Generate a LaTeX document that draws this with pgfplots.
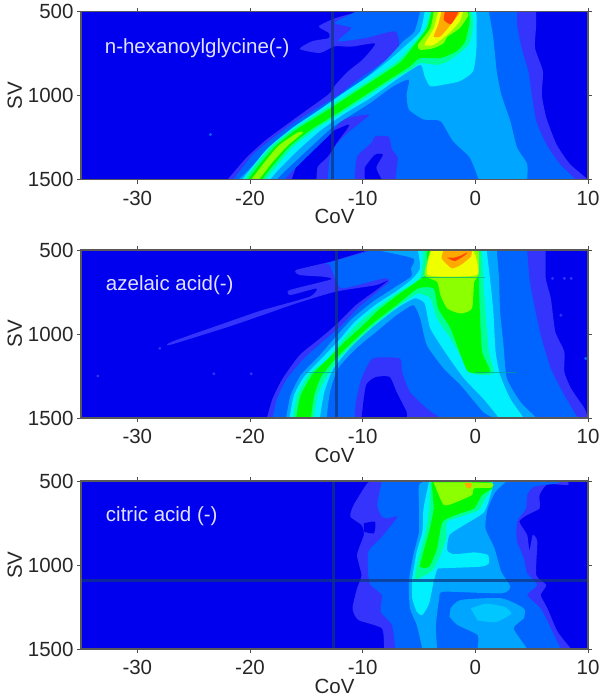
\documentclass[border=0pt]{standalone}
\usepackage{pgfplots}
\pgfplotsset{compat=1.18}
\usepackage{fontspec}
\setmainfont{Liberation Sans}
\definecolor{LA}{RGB}{0,0,238}
\definecolor{LB}{RGB}{52,52,252}
\definecolor{LC}{RGB}{0,100,255}
\definecolor{LD}{RGB}{0,165,255}
\definecolor{LE}{RGB}{0,240,255}
\definecolor{LF}{RGB}{0,255,150}
\definecolor{LG}{RGB}{0,250,0}
\definecolor{LH}{RGB}{140,255,0}
\definecolor{LI}{RGB}{240,255,0}
\definecolor{LJ}{RGB}{255,170,0}
\definecolor{LK}{RGB}{255,70,0}
\definecolor{LineC}{RGB}{15,55,125}
\tikzset{pname/.style={anchor=west, inner sep=0pt, text=white!88!blue, font=\fontsize{20.5}{21}\selectfont}}
\pgfplotsset{
  heat/.style={
    scale only axis, width=507pt, height=168pt, anchor=north west,
    xmin=-35, xmax=10, ymin=500, ymax=1500, y dir=reverse,
    axis background/.style={fill=LA},
    xtick={-30,-20,-10,0,10}, xticklabels={-30,-20,-10,0,10},
    ytick={500,1000,1500}, yticklabels={500,1000,1500},
    tick align=outside, major tick length=4pt,
    every tick/.style={color=black!70, line width=0.7pt},
    axis line style={color=black!65, line width=1.1pt},
    tick label style={font=\fontsize{20.5}{21}\selectfont, text=black!85},
    label style={font=\fontsize{20.5}{21}\selectfont, text=black!85},
    xticklabel style={yshift=-4pt},
    xlabel style={yshift=3pt},
    ylabel style={yshift=-1pt},
    xlabel={CoV}, ylabel={SV},
    axis on top,
  },
  lev/.style={fill=#1, draw=none, forget plot, smooth, tension=0.35},
  dark/.style={draw=LineC, line width=3pt, opacity=0.72, forget plot},
}
\begin{document}
\begin{tikzpicture}[x=1pt,y=1pt]
\path[use as bounding box] (0,0) rectangle (602,700);
% ---------- n-hexanoylglycine
\begin{axis}[heat, at={(81pt,688.3pt)}]
\addplot[lev=LB] coordinates {(-10.3,500)(-12.4,538)(-13.9,587)(-13,627)(-13,657)(-14.5,676)(-15.6,722)(-13.8,746)(-12.5,706)(-11,708)(-8.9,690)(-10,785)(-11.3,855)(-12.4,934)(-13,990)(-15.9,1131)(-18.5,1259)(-20.3,1368)(-22,1500)(-22.8,1570)(10.8,1570)(10,1500)(8.4,1407)(7.2,1289)(6.3,1131)(5.9,993)(6,855)(5.3,717)(5.4,580)(5.4,500)} -- cycle;
\addplot[lev=LA] coordinates {(-16.3,1500)(-15.6,1380)(-14.1,1280)(-12.9,1220)(-11.3,1172)(-11.3,1190)(-12.3,1280)(-13.1,1363)(-14,1422)(-14.1,1500)} -- cycle;
\addplot[lev=LC] coordinates {(-10.6,500)(-12.5,567)(-11,597)(-12.2,676)(-9.7,656)(-7.1,617)(-6.8,726)(-8.5,815)(-10.6,914)(-11.9,984)(-13.5,1052)(-15.9,1151)(-17.9,1249)(-19.7,1348)(-21.5,1500)(-22.3,1570)(-16.2,1570)(-16.9,1500)(-15.3,1387)(-12.9,1230)(-11.7,1141)(-9.4,1113)(-11.2,1214)(-12.2,1280)(-12.9,1363)(-13.1,1500)(-13.1,1570)(9.6,1570)(8.9,1500)(7.5,1407)(6.3,1289)(5.4,1151)(5,993)(4.7,855)(4.1,717)(3.7,579)(3.7,500)} -- cycle;
\addplot[lev=LB] coordinates {(-10.7,1500)(-10.5,1363)(-9.2,1280)(-8.9,1243)(-7.7,1243)(-7.4,1321)(-6.9,1369)(-7.1,1500)} -- cycle;
\addplot[lev=LA] coordinates {(-9.8,1500)(-9.8,1428)(-8.9,1351)(-8.2,1351)(-8.8,1428)(-8.3,1500)} -- cycle;
\addplot[lev=LD] coordinates {(-4.9,500)(-5.4,618)(-6.4,677)(-7.9,786)(-9.6,885)(-11.7,993)(-13.8,1101)(-16.2,1210)(-18.5,1338)(-21,1500)(-21.8,1570)(-17,1570)(-17.6,1500)(-15.6,1368)(-12.9,1200)(-11.4,1131)(-9.3,1042)(-7.3,944)(-5.9,904)(-6.1,993)(-5.9,1082)(-4.6,1141)(-3.1,1151)(-2,1269)(-0.5,1368)(0.3,1500)(0.6,1570)(4.6,1570)(4.6,1500)(4.6,1407)(3.7,1308)(3.1,1151)(2.3,993)(1.9,855)(1.6,658)(1.2,500)} -- cycle;
\addplot[lev=LE] coordinates {(-4.5,500)(-4.9,618)(-6.1,697)(-7.6,786)(-9.3,875)(-11.7,983)(-13.8,1082)(-16.2,1190)(-18.5,1318)(-20.7,1500)(-21.5,1570)(-17.6,1570)(-18.2,1500)(-16.1,1348)(-13.8,1210)(-11.7,1111)(-9.3,1013)(-7,904)(-4.9,816)(-4.5,885)(-4,944)(-2.8,934)(-1.4,914)(-0.2,855)(0.1,717)(0.1,500)} -- cycle;
\addplot[lev=LF] coordinates {(-4,500)(-4.5,608)(-5.7,707)(-7,800)(-9.2,900)(-11.5,1000)(-13.8,1100)(-16.2,1200)(-18.1,1300)(-19.4,1400)(-20.5,1500)(-21.2,1570)(-18,1570)(-18.55,1500)(-17.4,1400)(-16.1,1300)(-14.2,1200)(-11.8,1100)(-9.5,1000)(-7.2,900)(-5.6,840)(-4.9,806)(-3.3,816)(-2.2,786)(-0.6,697)(-0.2,579)(-0.3,500)} -- cycle;
\addplot[lev=LG] coordinates {(-3.9,500)(-4.3,599)(-5.4,697)(-6.65,800)(-8.85,900)(-11.15,1000)(-13.45,1100)(-15.85,1200)(-17.75,1300)(-19.05,1400)(-20.2,1500)(-21,1570)(-18.3,1570)(-18.9,1500)(-17.75,1400)(-16.45,1300)(-14.55,1200)(-12.15,1100)(-9.85,1000)(-7.55,900)(-5.9,830)(-4.9,776)(-3.1,776)(-1.7,737)(-0.9,677)(-0.5,559)(-0.6,500)} -- cycle;
\addplot[lev=LH] coordinates {(-19.9,1500)(-18.75,1400)(-17.5,1300)(-15.8,1220)(-15.3,1220)(-16.7,1300)(-18.05,1400)(-19.2,1500)} -- cycle;
\addplot[lev=LH] coordinates {(-3.7,500)(-4,599)(-5.1,697)(-4.9,727)(-3.7,717)(-2.8,687)(-2.5,650)(-1.4,599)(-0.6,520)(-0.8,500)} -- cycle;
\addplot[lev=LI] coordinates {(-3.3,500)(-3.7,599)(-4.5,697)(-3.7,697)(-2.5,638)(-1.4,559)(-1.1,500)} -- cycle;
\addplot[lev=LJ] coordinates {(-3,500)(-3.3,579)(-3.7,648)(-3.1,648)(-2.2,579)(-1.4,510)(-1.4,500)} -- cycle;
\addplot[lev=LK] coordinates {(-2.7,500)(-2.8,549)(-2.2,575)(-1.8,539)(-1.5,500)} -- cycle;
\addplot[only marks, mark=*, mark size=1.3pt, color=LC, forget plot] coordinates {(-23.5,1231)};
\addplot[dark] coordinates {(-12.65,500)(-12.65,1500)};
\addplot[draw=black!75!blue, line width=1.6pt, forget plot] coordinates {(-35,1500)(10,1500)};
\node[pname] at (axis cs:-32.9,715) {n-hexanoylglycine(-)};
\end{axis}
% ---------- azelaic acid
\begin{axis}[heat, at={(81pt,450pt)}]
\addplot[lev=LB] coordinates {(-9.4,500)(-12.9,570)(-15.9,619)(-15.6,649)(-13.5,659)(-12.8,675)(-16.5,739)(-16.4,768)(-14.1,729)(-14.7,778)(-18.9,858)(-21.9,927)(-26.9,1045)(-27.1,1065)(-21.9,957)(-18.9,888)(-15.9,818)(-12.4,748)(-8.8,709)(-7.7,679)(-8.8,739)(-10.6,828)(-12.4,947)(-13.8,1027)(-15.6,1126)(-17.1,1265)(-18,1385)(-18.5,1500)(-18.7,1570)(10.5,1570)(10,1500)(9.7,1444)(8.5,1325)(7.9,1226)(7.9,1106)(7.1,987)(6.7,788)(6.25,669)(6.25,500)} -- cycle;
\addplot[lev=LC] coordinates {(-9.1,500)(-13.2,580)(-12.9,589)(-12.4,679)(-11.8,729)(-8.8,679)(-7.9,669)(-7.6,689)(-8.5,739)(-10.3,838)(-12,957)(-13.4,1037)(-15.2,1146)(-16.7,1265)(-17.6,1385)(-18,1500)(-18.2,1570)(9.8,1570)(9.1,1500)(7.9,1365)(6.7,1206)(5.8,1007)(5.1,788)(4.8,669)(4.6,500)} -- cycle;
\addplot[lev=LB] coordinates {(-10.7,1500)(-10.6,1404)(-10.1,1265)(-9.1,1146)(-6.7,1146)(-6.5,1226)(-5.8,1345)(-4.3,1444)(-3.1,1500)} -- cycle;
\addplot[lev=LA] coordinates {(-10.1,1500)(-9.7,1305)(-8.8,1256)(-7.6,1256)(-7,1345)(-6.1,1464)(-6.1,1500)} -- cycle;
\addplot[lev=LD] coordinates {(-8.8,500)(-5.5,550)(-5.7,609)(-5.7,659)(-7.3,729)(-9.1,808)(-10.9,907)(-12.4,1017)(-13.8,1126)(-15.5,1245)(-16.4,1365)(-16.8,1500)(-17,1570)(-13.3,1570)(-13.2,1500)(-12.9,1345)(-12.2,1206)(-10.6,1087)(-8.8,987)(-7,888)(-5.5,828)(-4.9,907)(-4.3,1067)(-2.8,1206)(-1.3,1305)(0.7,1464)(1.6,1500)(2.3,1570)(6,1570)(5.4,1500)(4,1404)(2.8,1265)(2.5,1067)(2.2,868)(2.1,669)(1.9,500)} -- cycle;
\addplot[lev=LE] coordinates {(-5.1,500)(-4.9,609)(-5.7,679)(-7.1,749)(-8.9,828)(-10.7,928)(-12.1,1037)(-13.5,1136)(-15.2,1255)(-16.1,1365)(-16.5,1500)(-16.7,1570)(-13.9,1570)(-13.8,1500)(-13.4,1345)(-12.6,1206)(-10.9,1067)(-9.1,957)(-7,848)(-5.4,788)(-4.5,818)(-4,967)(-2.5,1126)(-1,1265)(0.7,1385)(2.1,1500)(2.8,1570)(5,1570)(4.3,1500)(3.1,1385)(2.2,1245)(1.8,1106)(1.6,868)(1.3,669)(1,500)} -- cycle;
\addplot[lev=LF] coordinates {(-4.6,500)(-4.8,649)(-5.5,699)(-7,759)(-8.8,848)(-10.4,937)(-11.9,1047)(-13.2,1156)(-14.7,1236)(-15.8,1365)(-16.2,1500)(-16.4,1570)(-14.4,1570)(-14.3,1500)(-14,1365)(-13.2,1255)(-12.1,1146)(-10.6,1047)(-8.8,937)(-6.7,828)(-5.1,759)(-4,788)(-3.4,907)(-2.2,1027)(-1,1166)(-0.3,1236)(1.6,1236)(1.2,1106)(0.9,868)(0.7,669)(0.6,500)} -- cycle;
\addplot[lev=LG] coordinates {(-4.3,500)(-4.3,639)(-5.2,689)(-6.7,759)(-8.6,858)(-10.1,957)(-11.6,1047)(-12.9,1136)(-14.4,1236)(-15.5,1365)(-15.9,1500)(-16,1570)(-14.7,1570)(-14.6,1500)(-14.3,1365)(-13.7,1255)(-12.4,1146)(-10.9,1047)(-9.1,937)(-7,828)(-5.1,729)(-3.7,729)(-3.3,848)(-2.2,967)(-1.3,1126)(-0.6,1226)(1.3,1226)(0.6,1106)(0.4,868)(0.3,669)(0.3,500)} -- cycle;
\addplot[lev=LH] coordinates {(-4,500)(-4.5,649)(-3.4,689)(-3.1,768)(-2.5,848)(-1.3,878)(-0.3,848)(-0.1,689)(0.3,649)(0.3,500)} -- cycle;
\addplot[lev=LI] coordinates {(-3.9,500)(-4.2,649)(0.1,649)(0,530)(-0.3,500)} -- cycle;
\addplot[lev=LJ] coordinates {(-2.8,500)(-3,550)(-2.1,609)(-1.3,589)(-0.4,540)(-0.3,500)} -- cycle;
\addplot[lev=LK] coordinates {(-2.5,546)(-1.8,566)(-0.9,530)(-0.7,514)(-1.3,534)(-1.9,546)} -- cycle;
\addplot[only marks, mark=*, mark size=1.3pt, color=LB, forget plot] coordinates {(-28,1085)(-23.2,1237)(-19.9,1237)(-33.5,1250)(6.85,669)(7.9,669)(8.5,669)(7.6,888)};
\addplot[only marks, mark=*, mark size=1.3pt, color=LC, forget plot] coordinates {(9.8,1146)};
\addplot[draw=LC!60!LG, line width=0.7pt, opacity=0.7, forget plot] coordinates {(-15,1228)(-12.5,1228)};
\addplot[draw=LC!60!LG, line width=0.7pt, opacity=0.7, forget plot] coordinates {(0,1228)(3.6,1228)};
\addplot[draw=LC!50!LG, line width=0.8pt, opacity=0.7, forget plot] coordinates {(-4.8,665)(0.9,665)};
\addplot[dark] coordinates {(-12.35,500)(-12.35,1500)};
\node[pname] at (axis cs:-32.8,709) {azelaic acid(-)};
\end{axis}
% ---------- citric acid
\begin{axis}[heat, at={(81pt,219pt)}]
\addplot[lev=LB] coordinates {(-9,500)(-9.6,514)(-10.8,643)(-11.1,712)(-10.1,762)(-9.9,821)(-10.5,940)(-10.1,1060)(-10.5,1139)(-10.9,1258)(-10.4,1327)(-8.3,1377)(-8.1,1500)(-8.1,1570)(9.2,1570)(8.5,1500)(7.3,1397)(6.4,1258)(5.8,1179)(6.3,1119)(5.4,1060)(5.5,861)(5.1,821)(4.8,913)(4.6,821)(3.9,742)(4.6,702)(5.7,663)(5.7,583)(6.4,520)(8.2,524)(8.2,500)} -- cycle;
\addplot[lev=LA] coordinates {(-9.9,752)(-8.9,742)(-9,811)(-9.9,802)} -- cycle;
\addplot[lev=LC] coordinates {(-8.3,500)(-8.7,643)(-8.3,712)(-7.8,722)(-6.9,712)(-7.8,792)(-8.4,841)(-9.5,921)(-9.5,1060)(-9.3,1119)(-8.3,1179)(-8.4,1278)(-7.4,1357)(-7.1,1500)(-7,1570)(8.3,1570)(7.6,1500)(6.7,1377)(5.8,1258)(4.6,1179)(5.5,1119)(4.6,1050)(4.3,960)(3.7,861)(3.7,742)(4.5,663)(4.6,583)(5.2,534)(7.3,514)(7.6,500)} -- cycle;
\addplot[lev=LD] coordinates {(-4.3,500)(-5,524)(-5,663)(-5,802)(-5.5,940)(-5.9,1099)(-5.8,1258)(-5.2,1357)(-4.7,1500)(-4.5,1570)(-3.4,1570)(-3.4,1500)(-3.5,1357)(-3.2,1198)(-2.8,1159)(2.3,1169)(3.1,1129)(2.3,1040)(1.7,901)(0.9,782)(1.1,663)(1.8,563)(2.8,500)} -- cycle;
\addplot[lev=LD] coordinates {(-2.2,1258)(-1.3,1208)(2.3,1198)(4.3,1258)(4.3,1317)(3.4,1377)(4.6,1500)(5,1570)(0.2,1570)(0.2,1500)(0.2,1417)(-1.6,1357)(-2.3,1307)} -- cycle;
\addplot[lev=LD!55!LE] coordinates {(-0.4,1258)(1,1230)(2.6,1250)(3.2,1290)(1.8,1340)(0.2,1330)} -- cycle;
\addplot[lev=LE] coordinates {(-4.1,500)(-4.6,663)(-4.7,802)(-5.2,921)(-5.6,1079)(-5.6,1198)(-5.2,1278)(-4.7,1298)(-4.1,1228)(-3.7,1099)(-3.4,1030)(-3.1,1020)(0.5,1010)(1.2,990)(1.1,940)(-0.1,925)(-1.9,936)(-2.5,911)(-2.3,821)(-1,762)(0.8,683)(1.5,544)(1.5,500)} -- cycle;
\addplot[lev=LF] coordinates {(-4,500)(-4.1,663)(-4.4,802)(-4.9,921)(-5.3,1040)(-5.3,1089)(-3.8,1030)(-3.1,940)(-2.6,841)(-2.5,742)(-1.3,712)(0.3,673)(0.9,603)(1.5,544)(1.5,500)} -- cycle;
\addplot[lev=LG] coordinates {(-3.9,500)(-3.7,663)(-4.1,802)(-4.6,921)(-4.9,1010)(-4.1,1010)(-3.4,901)(-2.9,742)(-1.3,692)(-0.1,663)(0.6,583)(1.5,544)(1.5,514)(0.6,500)} -- cycle;
\addplot[lev=LH] coordinates {(-3.7,508)(-2.8,643)(-1.6,623)(-0.3,583)(-0.1,544)(1.4,540)(1.5,514)(-0.9,508)} -- cycle;
\addplot[lev=LJ] coordinates {(-1,510)(-0.7,544)(-0.4,540)(-0.3,514)} -- cycle;
\addplot[dark] coordinates {(-12.6,500)(-12.6,1500)};
\addplot[dark] coordinates {(-35,1091)(10,1091)};
\node[pname] at (axis cs:-32.8,708) {citric acid (-)};
\end{axis}
\end{tikzpicture}
\end{document}
